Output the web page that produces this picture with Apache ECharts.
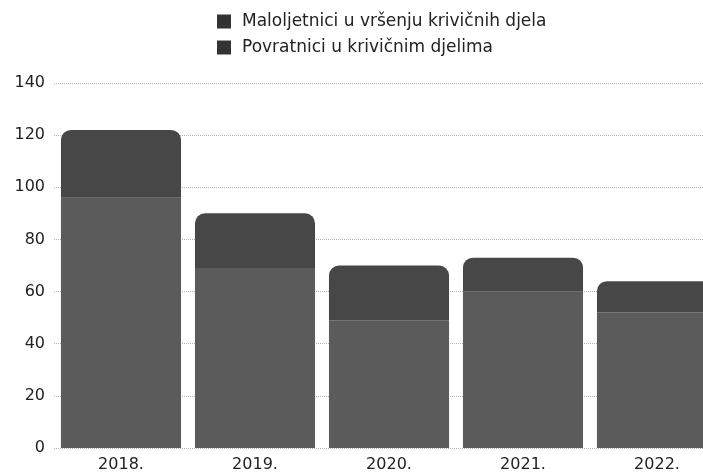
<!DOCTYPE html>
<html><head><meta charset="utf-8">
<script src="https://cdn.jsdelivr.net/npm/echarts@6/dist/echarts.min.js"></script>
<style>html,body{margin:0;padding:0;background:#fff}#c{width:703px;height:474px}</style>
</head><body><div id="c"></div>
<script>
var categories = ['2018.', '2019.', '2020.', '2021.', '2022.'];
var maloljetnici = [96, 69, 49, 60, 52];
var povratnici = [26, 21, 21, 13, 12];
var seriesNames = ['Maloljetnici u vršenju krivičnih djela', 'Povratnici u krivičnim djelima'];
var yTicks = [0, 20, 40, 60, 80, 100, 120, 140];

var FONT = 'DejaVu Sans';
var chart = echarts.init(document.getElementById('c'));
chart.setOption({
  animation: false,
  textStyle: {fontFamily: FONT},
  legend: {
    orient: 'vertical', left: 212, top: 8, icon: 'rect', itemWidth: 14, itemHeight: 14, itemGap: 9,
    textStyle: {fontSize: 17, color: '#222', fontFamily: FONT, padding: [0, 0, 0, 6]},
    data: seriesNames.map(function(n){return {name: n, itemStyle: {color: '#333'}};})
  },
  grid: {left: 54, width: 670, top: 83, bottom: 26, outerBoundsMode: 'none', containLabel: false},
  xAxis: {
    type: 'category', data: categories,
    axisLine: {show: false}, axisTick: {show: false},
    axisLabel: {fontSize: 16, color: '#222', margin: 9}
  },
  yAxis: {
    type: 'value', min: yTicks[0], max: yTicks[yTicks.length-1], interval: 20,
    axisLine: {show: false}, axisTick: {show: false},
    axisLabel: {fontSize: 16, color: '#222', margin: 9},
    splitLine: {lineStyle: {type: 'dotted', color: '#b5b5b5', width: 1}}
  },
  series: [
    {name: seriesNames[0], type: 'bar', stack: 's', data: maloljetnici, barCategoryGap: '10.4%',
     itemStyle: {color: '#5b5b5b'}},
    {name: seriesNames[1], type: 'bar', stack: 's', data: povratnici,
     itemStyle: {color: '#474747', borderRadius: [10, 10, 0, 0]}}
  ]
});
</script></body></html>
